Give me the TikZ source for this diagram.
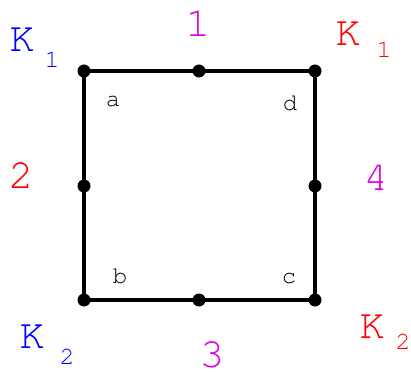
\documentclass[tikz,border=0pt]{standalone}
\usepackage[T1]{fontenc}
\newcommand{\courfam}{\fontencoding{T1}\fontfamily{pcr}\selectfont}
\begin{document}
\begin{tikzpicture}[x=1pt,y=-1pt,
  big/.style={font=\courfam\fontsize{42}{42}\selectfont, inner sep=0pt},
  sub/.style={font=\courfam\fontsize{25}{25}\selectfont, inner sep=0pt},
  lbl/.style={font=\courfam\fontsize{24}{24}\selectfont, inner sep=0pt},
  dot/.style={circle, fill=black, minimum size=13pt, inner sep=0pt}]
\useasboundingbox (0,0) rectangle (411,371);
\definecolor{kblue}{RGB}{0,0,255}
\definecolor{kred}{RGB}{255,0,0}
\definecolor{kmag}{RGB}{221,0,221}
\coordinate (A) at (84,71);
\coordinate (D) at (315,71);
\coordinate (B) at (84,300);
\coordinate (C) at (315,300);
\draw[line width=4pt, line join=miter] (A) -- (D) -- (C) -- (B) -- cycle;
\node[dot] (nA) at (A) {};
\node[dot] (nD) at (D) {};
\node[dot] (nB) at (B) {};
\node[dot] (nC) at (C) {};
\node[dot] (m1) at (199,71) {};
\node[dot] (m2) at (84,186) {};
\node[dot] (m4) at (315,186) {};
\node[dot] (m3) at (199,300) {};
\node[big, text=kblue] (k1a) at (22,40) {K};
\node[sub, text=kblue] (s1a) at (52,60) {1};
\node[big, text=kred] (k1b) at (348,34) {K};
\node[sub, text=kred] (s1b) at (384,50) {1};
\node[big, text=kblue] (k2a) at (32,337) {K};
\node[sub, text=kblue] (s2a) at (67,357) {2};
\node[big, text=kred] (k2b) at (372,327) {K};
\node[sub, text=kred] (s2b) at (403,342) {2};
\node[big, text=kmag] (e1) at (198,23) {1};
\node[big, text=kred] (e2) at (21,175) {2};
\node[big, text=kmag] (e4) at (376,177) {4};
\node[big, text=kmag] (e3) at (212,354) {3};
\node[lbl] (la) at (113,101) {a};
\node[lbl] (ld) at (290,103) {d};
\node[lbl] (lb) at (120,276) {b};
\node[lbl] (lc) at (289,278) {c};
\end{tikzpicture}
\end{document}
